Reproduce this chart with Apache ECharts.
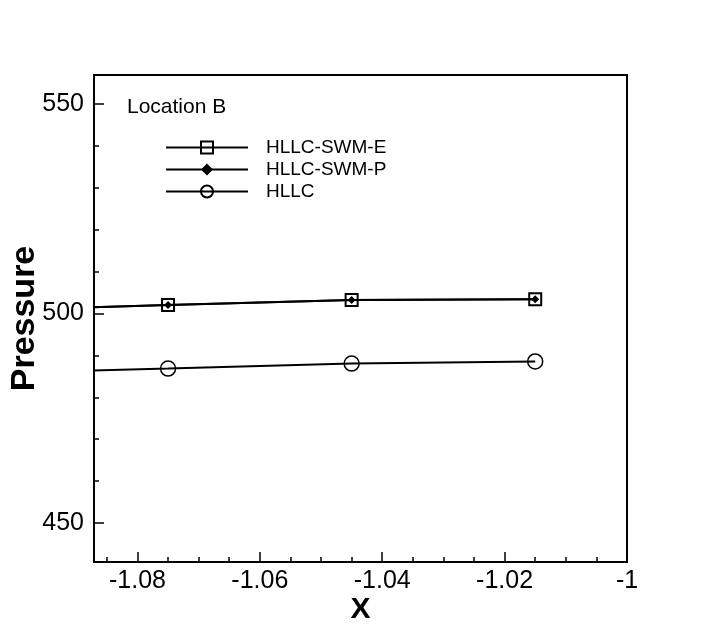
<!DOCTYPE html>
<html>
<head>
<meta charset="utf-8">
<script src="https://cdn.jsdelivr.net/npm/echarts@6/dist/echarts.min.js"></script>
<style>html,body{margin:0;padding:0;background:#fff;}#c{width:713px;height:634px;}</style>
</head>
<body>
<div id="c"></div>
<script>
// ---- data ----
var xValues = [-1.09, -1.075, -1.045, -1.015];          // first point lies left of the visible range
var swmE = [501.4, 502.0, 503.2, 503.4];
var swmP = [501.4, 502.0, 503.2, 503.4];
var hllc = [486.3, 486.85, 488.05, 488.55];
var seriesNames = ['HLLC-SWM-E', 'HLLC-SWM-P', 'HLLC'];
var xMajorTicks = [-1.08, -1.06, -1.04, -1.02, -1.0];
var xMinorTicks = [-1.085, -1.075, -1.07, -1.065, -1.055, -1.05, -1.045, -1.035, -1.03, -1.025, -1.015, -1.01, -1.005];
var yMajorTicks = [450, 500, 550];
var yMinorTicks = [460, 470, 480, 490, 510, 520, 530, 540];
var xRange = [-1.0871, -1.0];
var yRange = [440.7, 556.9];

function pts(ys) {
  return xValues.map(function (x, i) {
    var d = { value: [x, ys[i]] };
    if (i === 0) d.symbol = 'none';
    return d;
  });
}
var font = 'Liberation Sans, Arial, Helvetica, sans-serif';
function xAxisDef(ticks, len, showLabel, extra) {
  var a = {
    type: 'value', min: xRange[0], max: xRange[1], position: 'bottom',
    axisLine: { show: true, onZero: false, lineStyle: { color: '#000', width: 2 } },
    axisTick: { show: true, inside: true, length: len, customValues: ticks, lineStyle: { color: '#000', width: 1.5 } },
    axisLabel: { show: showLabel, customValues: ticks, margin: 7, color: '#000', fontSize: 25, fontFamily: font,
      formatter: function (v) { return Math.abs(v + 1) < 1e-9 ? '-1' : v.toFixed(2); } },
    splitLine: { show: false }
  };
  for (var k in extra) a[k] = extra[k];
  return a;
}
function yAxisDef(ticks, len, showLabel, extra) {
  var a = {
    type: 'value', min: yRange[0], max: yRange[1], position: 'left',
    axisLine: { show: true, onZero: false, lineStyle: { color: '#000', width: 2 } },
    axisTick: { show: true, inside: true, length: len, customValues: ticks, lineStyle: { color: '#000', width: 1.5 } },
    axisLabel: { show: showLabel, customValues: ticks, margin: 10, color: '#000', fontSize: 25, fontFamily: font },
    splitLine: { show: false }
  };
  for (var k in extra) a[k] = extra[k];
  return a;
}

var chart = echarts.init(document.getElementById('c'), null, { renderer: 'canvas' });
chart.setOption({
  animation: false,
  backgroundColor: '#fff',
  title: {
    text: 'Location B', left: 122, top: 92,
    textStyle: { fontFamily: font, fontSize: 21, fontWeight: 'normal', color: '#000' }
  },
  grid: { left: 94, top: 75, right: 86, bottom: 72, show: true, borderColor: '#000', borderWidth: 2,
    backgroundColor: 'transparent', containLabel: false, outerBoundsMode: 'none' },
  legend: {
    orient: 'vertical', left: 160, top: 133,
    itemWidth: 82, itemHeight: 15, itemGap: 3,
    data: seriesNames,
    textStyle: { fontFamily: font, fontSize: 19, color: '#000', padding: [0, 0, 0, 13] },
    inactiveColor: '#000'
  },
  xAxis: [
    xAxisDef(xMajorTicks, 10, true, { name: 'X', nameLocation: 'middle', nameGap: 33, nameMoveOverlap: false,
      nameTextStyle: { fontFamily: font, fontSize: 30, fontWeight: 'bold', color: '#000' } }),
    xAxisDef(xMinorTicks, 5, false, {})
  ],
  yAxis: [
    yAxisDef(yMajorTicks, 10, true, { name: 'Pressure', nameLocation: 'middle', nameGap: 52, nameRotate: 90, nameMoveOverlap: false,
      nameTextStyle: { fontFamily: font, fontSize: 34, fontWeight: 'bold', color: '#000' } }),
    yAxisDef(yMinorTicks, 5, false, {})
  ],
  series: [
    { name: seriesNames[0], type: 'line', data: pts(swmE), symbol: 'rect', symbolSize: 12,
      itemStyle: { color: 'transparent', borderColor: '#000', borderWidth: 2 },
      lineStyle: { color: '#000', width: 2 }, z: 3 },
    { name: seriesNames[1], type: 'line', data: pts(swmP), symbol: 'diamond', symbolSize: 8,
      itemStyle: { color: '#000', borderColor: '#000', borderWidth: 0 },
      lineStyle: { color: '#000', width: 2 }, z: 4 },
    { name: seriesNames[2], type: 'line', data: pts(hllc), symbol: 'circle', symbolSize: 15,
      itemStyle: { color: 'transparent', borderColor: '#000', borderWidth: 1.5 },
      lineStyle: { color: '#000', width: 2 }, z: 3 }
  ]
});
</script>
</body>
</html>
